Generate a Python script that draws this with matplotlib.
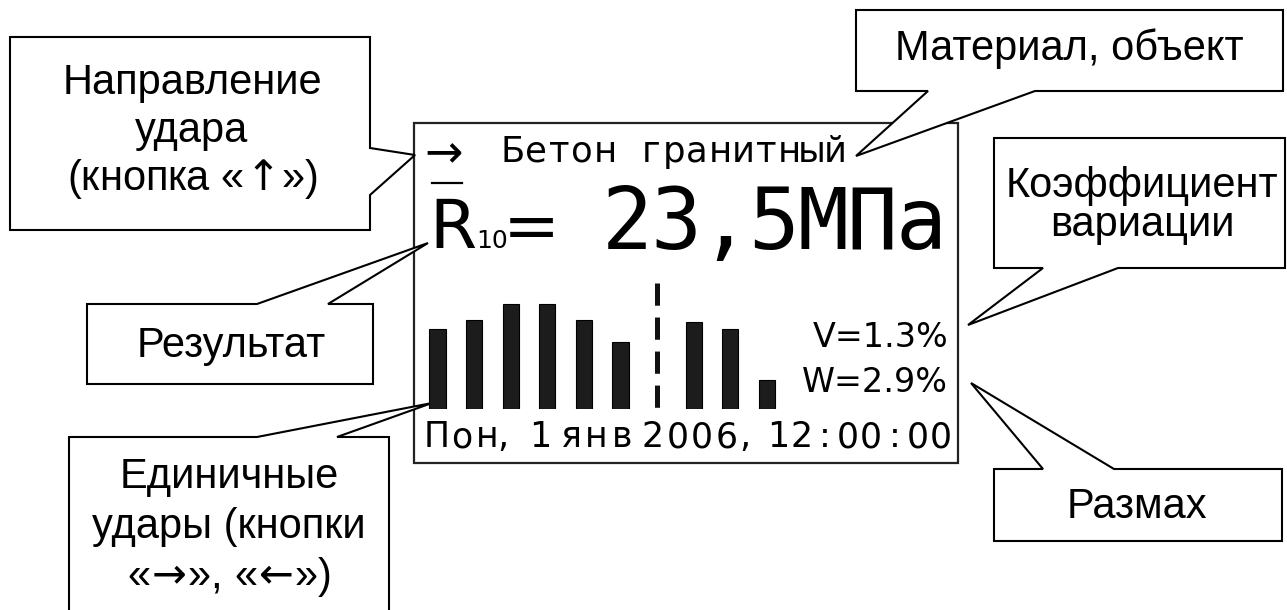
import matplotlib
matplotlib.use("Agg")
import matplotlib.pyplot as plt
from matplotlib.patches import Polygon, Rectangle

# datos del display
bar_pos = [0, 1, 2, 3, 4, 5, 7, 8, 9]
bar_val = [80, 89, 105, 105, 89, 67, 87, 80, 29]
dash_pos = 6
material = "Бетон гранитный"
result_value = "23,5МПа"
v_label = "V=1.3%"
w_label = "W=2.9%"
date_day = "Пон"
date_num = "1"
date_month = "янв"
date_year = "2006"
date_time = "12:00:00"

# textos de las llamadas
t_direction = ["Направление", "удара", r"(кнопка «$\!\uparrow\!$»)"]
t_result = ["Результат"]
t_single = ["Единичные", "удары (кнопки", r"«$\!\rightarrow\!$», «$\!\leftarrow\!$»)"]
t_material = ["Материал, объект"]
t_coef = ["Коэффициент", "вариации"]
t_range = ["Размах"]

plt.rcParams['lines.scale_dashes'] = False
plt.rcParams['mathtext.fontset'] = 'dejavusans'
MONO = "DejaVu Sans Mono"
LCD = "DejaVu Sans"
SANS = ["Liberation Sans", "DejaVu Sans"]

fig = plt.figure(figsize=(12.87, 6.10), dpi=100)
ax = fig.add_axes([0, 0, 1, 1])
ax.set_xlim(0, 1287)
ax.set_ylim(610, 0)
ax.axis("off")


def lcd(x0, y, s, pitch, size, family=LCD):
    # caracteres en celdas fijas, como la pantalla del equipo
    for i, ch in enumerate(s):
        ax.text(x0 + i * pitch, y, ch, fontsize=size, family=family,
                ha="center", va="baseline", zorder=3)


def callout(pts, lines, cx, y0, step):
    ax.add_patch(Polygon(pts, closed=True, facecolor="white", edgecolor="black",
                         lw=1.5, joinstyle="miter", zorder=5))
    for i, s in enumerate(lines):
        ax.text(cx, y0 + i * step, s, fontsize=30, family=SANS,
                ha="center", va="baseline", zorder=6)


# marco del display
ax.add_patch(Rectangle((414, 123), 544, 340, fill=False, edgecolor="#222222",
                       lw=1.6, zorder=2))

# linea 1: direccion y material
ax.text(444, 167, "→", fontsize=33, family="DejaVu Sans", ha="center",
        va="baseline", zorder=3)
lcd(513, 162, material, 23, 25.5)

# linea 2: resultado
ax.text(429, 248, "R", fontsize=49, family="DejaVu Sans", ha="left",
        va="baseline", zorder=3)
ax.plot([432, 462], [183, 183], color="black", lw=1.6, zorder=3)
ax.text(476, 248, "10", fontsize=18, family="DejaVu Sans", ha="left",
        va="baseline", zorder=3)
ax.text(531, 249, "=", fontsize=49, family="DejaVu Sans", ha="center",
        va="baseline", zorder=3)
lcd(627, 249, result_value, 49, 61, MONO)

# barras de golpes individuales
bax = fig.add_axes([419.2 / 1287, (610 - 409) / 610, 366 / 1287, 128 / 610])
bax.bar(bar_pos, bar_val, width=0.44, color="#1c1c1c", edgecolor="black", lw=0.8)
bax.plot([dash_pos, dash_pos], [126, 0], color="#111111", lw=3.6,
         dashes=(16, 8.5), solid_capstyle="butt", dash_capstyle="butt")
bax.set_xlim(-0.5, 9.5)
bax.set_ylim(0, 128)
bax.axis("off")

# coeficiente y rango
ax.text(948, 347, v_label, fontsize=24, family=LCD, ha="right", va="baseline", zorder=3)
ax.text(948, 392, w_label, fontsize=24, family=LCD, ha="right", va="baseline", zorder=3)

# fecha
lcd(437, 447, date_day, 25, 25)
lcd(503, 447, ",", 25, 25)
lcd(540, 447, date_num, 25, 25)
lcd(571, 447, date_month, 25.5, 25)
lcd(653, 447, date_year, 24.5, 25)
lcd(745, 447, ",", 25, 25)
lcd(778, 447, date_time, 23.3, 25)

# llamadas
callout([(10, 37), (370, 37), (370, 148), (415, 155), (370, 195), (370, 230), (10, 230)],
        t_direction, 192, 94, 48)
callout([(87, 304), (257, 304), (428, 243), (328, 304), (373, 304), (373, 384), (87, 384)],
        t_result, 231, 357, 0)
callout([(69, 437), (257, 437), (432, 403), (337, 437), (389, 437), (389, 640), (69, 640)],
        t_single, 229, 488, 50)
callout([(856, 10), (1283, 10), (1283, 91), (1035, 91), (856, 156), (928, 91), (856, 91)],
        t_material, 1069, 60, 0)
callout([(994, 138), (1285, 138), (1285, 268), (1118, 268), (968, 325), (1043, 268), (994, 268)],
        t_coef, 1142, 197, 39)
callout([(994, 469), (1043, 469), (971, 383), (1114, 469), (1282, 469), (1282, 541), (994, 541)],
        t_range, 1137, 518, 0)

fig.savefig("out.png", dpi=100)
